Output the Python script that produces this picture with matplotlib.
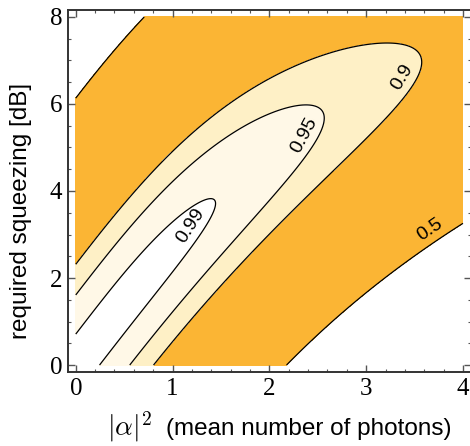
import numpy as np
import matplotlib
matplotlib.use("Agg")
from matplotlib import pyplot as plt

plt.rcParams['mathtext.fontset'] = 'cm'

# fidelity levels drawn as contours, and the band colours between them
levels = [0.5, 0.9, 0.95, 0.99]
band_colors = ['#FBB534', '#FEF0C6', '#FFF8E7']
label_pos = [(3.75, 2.8), (3.51, 6.44), (2.48, 5.15), (1.35, 2.97)]

x_ticks = [0, 1, 2, 3, 4]
y_ticks = [0, 2, 4, 6, 8]

# odd cat state vs. squeezed single photon
nbar = np.linspace(1e-9, 4, 500)        # |alpha|^2
sq_db = np.linspace(0, 8, 500)          # squeezing in dB
N, S = np.meshgrid(nbar, sq_db)
r = S * np.log(10) / 20
F = 2 * N * np.exp(-N * (1 - np.tanh(r))) / (np.cosh(r)**3 * -np.expm1(-2 * N))

W, H = 470, 446
fig = plt.figure(figsize=(W / 100, H / 100), dpi=100)
ax = fig.add_axes([0.1447, 0.1659, 0.8568, 0.8117])

ax.contourf(N, S, F, levels=levels, colors=band_colors)
cs = ax.contour(N, S, F, levels=levels, colors='black', linewidths=0.9)

ax.set_xlim(-0.08, 4.08)
ax.set_ylim(-0.16, 8.16)

# labels sit beside the line, nudged toward the inner side
ax.clabel(cs, fmt=lambda v: '%g' % v, manual=label_pos, fontsize=14,
          inline=False)
for t in cs.labelTexts:
    t.set_family('Liberation Sans')
    a = np.radians(t.get_rotation())
    p = ax.transData.transform(t.get_position())
    p = p + 13 * np.array([-np.sin(a), np.cos(a)])
    t.set_position(ax.transData.inverted().transform(p))

ax.set_xticks(x_ticks)
ax.set_yticks(y_ticks)
ax.set_xticks(np.arange(0, 4.01, 0.2), minor=True)
ax.set_yticks(np.arange(0, 8.01, 0.5), minor=True)
ax.tick_params(which='both', direction='in', top=True, right=True,
               labeltop=False, labelright=False, color='#555555')
ax.tick_params(which='major', length=5, width=1)
ax.tick_params(which='minor', length=2.5, width=0.8)
ax.tick_params(axis='both', labelsize=18, pad=4)
for lab in ax.get_xticklabels() + ax.get_yticklabels():
    lab.set_family('Liberation Serif')
for sp in ax.spines.values():
    sp.set_color('#333333')
    sp.set_linewidth(1.4)

# axis titles, placed in pixels
fig.text(21 / W, 1 - 211 / H, 'required squeezing [dB]', rotation=90,
         fontsize=17.5, family='Liberation Sans', ha='center', va='center')
fig.text(107 / W, 1 - 435 / H, r'$|\alpha|^2$', fontsize=20,
         ha='left', va='baseline')
fig.text(166 / W, 1 - 435 / H, '(mean number of photons)', fontsize=17.5,
         family='Liberation Sans', ha='left', va='baseline')

fig.savefig('out.png', dpi=100)
